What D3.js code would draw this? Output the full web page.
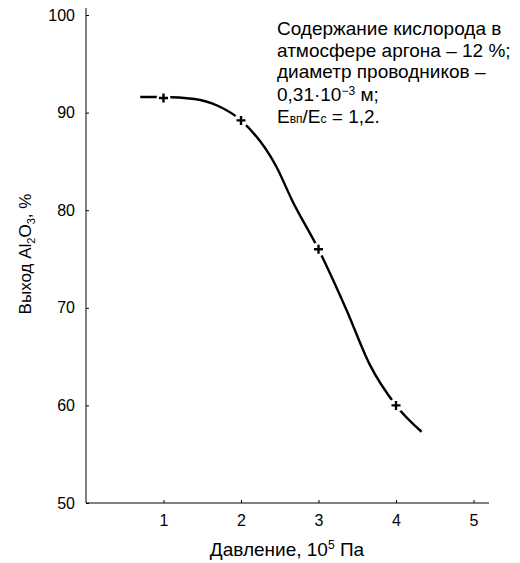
<!DOCTYPE html>
<html>
<head>
<meta charset="utf-8">
<script src="https://cdn.jsdelivr.net/npm/d3@7"></script>
<style>
  html, body { margin: 0; padding: 0; background: #fff; }
  svg { display: block; font-family: "Liberation Sans", Arial, sans-serif; }
</style>
</head>
<body>
<svg id="chart" width="520" height="563"></svg>
<script>
// Measured points (pressure, 10^5 Pa -> Al2O3 yield, %)
const pointPressure = [1, 2, 3, 4];
const pointYield = [91.5, 89.2, 76.0, 60.0];

// Smooth fitted curve through the measurements
const curvePressure = [0.7, 1.0, 1.4, 1.7, 2.0, 2.46, 2.66, 3.0, 3.36, 3.66, 4.0, 4.33];
const curveYield = [91.6, 91.6, 91.4, 90.7, 89.2, 84.4, 81.0, 76.0, 69.8, 64.2, 60.0, 57.3];

const xTicks = [1, 2, 3, 4, 5];
const yTicks = [50, 60, 70, 80, 90, 100];

const svg = d3.select("#chart");
const x = d3.scaleLinear().domain([0, 5.2]).range([86, 489]);
const y = d3.scaleLinear().domain([50, 100]).range([503, 15]);

// Axes with short inward ticks
const xAxis = d3.axisBottom(x).tickValues(xTicks).tickFormat(d3.format("d"))
  .tickSizeInner(-3).tickSizeOuter(0).tickPadding(12);
const yAxis = d3.axisLeft(y).tickValues(yTicks).tickFormat(d3.format("d"))
  .tickSizeInner(-3).tickSizeOuter(0).tickPadding(11);

const gx = svg.append("g").attr("transform", `translate(0,${y(50)})`).call(xAxis);
gx.select(".domain").attr("d", `M${x(0)},0H${x(5.2)}`);
const gy = svg.append("g").attr("transform", `translate(${x(0)},0)`).call(yAxis);
gy.select(".domain").attr("d", `M0,${y(50)}V${y(100) - 7}`);

[gx, gy].forEach(g => {
  g.selectAll("path, line").attr("stroke", "#000").attr("stroke-width", 1);
  g.selectAll("text").attr("font-size", 16).attr("fill", "#000")
    .attr("font-family", "\"Liberation Sans\", Arial, sans-serif");
});

// Curve
const line = d3.line().x(d => x(d[0])).y(d => y(d[1])).curve(d3.curveMonotoneX);
const curveData = curvePressure.map((p, i) => [p, curveYield[i]]);
svg.append("path")
  .datum(curveData)
  .attr("d", line)
  .attr("fill", "none")
  .attr("stroke", "#000")
  .attr("stroke-width", 2.4);

// Markers: white knock-out behind a bold plus
const pts = pointPressure.map((p, i) => [p, pointYield[i]]);
const mk = svg.append("g").selectAll("g").data(pts).join("g")
  .attr("transform", d => `translate(${x(d[0])},${y(d[1])})`);
mk.append("circle").attr("r", 7).attr("fill", "#fff");
mk.append("path").attr("d", "M-4.5,0H4.5M0,-4.5V4.5")
  .attr("stroke", "#000").attr("stroke-width", 2.4).attr("fill", "none");

// Axis titles
const xt = svg.append("text").attr("x", 287).attr("y", 556).attr("text-anchor", "middle")
  .attr("font-size", 19).attr("fill", "#000");
xt.append("tspan").text("Давление, 10");
xt.append("tspan").attr("dy", -7).attr("font-size", 12).text("5");
xt.append("tspan").attr("dy", 7).text(" Па");

const yt = svg.append("text").attr("transform", "translate(31,254) rotate(-90)")
  .attr("text-anchor", "middle").attr("font-size", 17).attr("fill", "#000");
yt.append("tspan").text("Выход Al");
yt.append("tspan").attr("dy", 4).attr("font-size", 11).text("2");
yt.append("tspan").attr("dy", -4).text("O");
yt.append("tspan").attr("dy", 4).attr("font-size", 11).text("3");
yt.append("tspan").attr("dy", -4).text(", %");

// Annotation block
const ann = svg.append("g").attr("font-size", 19).attr("fill", "#000");
const ax = 277;
ann.append("text").attr("x", ax).attr("y", 35).text("Содержание кислорода в");
ann.append("text").attr("x", ax).attr("y", 57).text("атмосфере аргона – 12 %;");
ann.append("text").attr("x", ax).attr("y", 78).text("диаметр проводников –");
const l4 = ann.append("text").attr("x", ax).attr("y", 101);
l4.append("tspan").text("0,31·10");
l4.append("tspan").attr("dy", -6).attr("font-size", 12).text("−3");
l4.append("tspan").attr("dy", 6).text(" м;");
const l5 = ann.append("text").attr("x", ax).attr("y", 123);
l5.append("tspan").text("E");
l5.append("tspan").attr("font-size", 12).text("вп");
l5.append("tspan").text("/E");
l5.append("tspan").attr("font-size", 12).text("с");
l5.append("tspan").text(" = 1,2.");
</script>
</body>
</html>
